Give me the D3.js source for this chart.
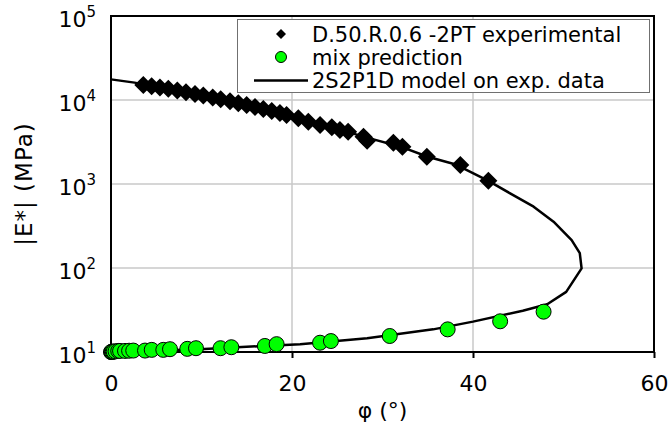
<!DOCTYPE html>
<html><head><meta charset="utf-8">
<script src="https://cdn.jsdelivr.net/npm/d3@7"></script>
<style>body{margin:0;background:#fff} svg{display:block;font-family:"DejaVu Sans",Verdana,sans-serif}</style>
</head><body><svg id="c" width="671" height="430"></svg>
<script>
// experimental data (phase angle °, |E*| MPa)
const expPhi=[3.57,4.49,5.41,6.33,7.33,8.29,9.28,10.2,11.24,12.12,13.15,14.07,14.99,15.91,16.83,17.76,18.67,19.4,20.7,21.8,23.1,24.4,25.3,26.2,27.9,28.3,31.2,32.2,34.9,38.6,41.7];
const expE=[15100,14600,14100,13600,13000,12400,11800,11300,10700,10200,9660,9170,8700,8260,7840,7420,6980,6620,6050,5520,5030,4730,4400,4200,3660,3280,3100,2780,2110,1680,1090];
// mix prediction
const mixPhi=[0,0.05,0.1,0.2,0.3,0.5,0.8,1.0,1.55,2.0,2.46,3.76,4.5,5.78,6.52,8.43,9.39,12.1,13.3,17.0,18.3,23.1,24.3,30.8,37.2,43.0,47.8];
const mixE=[10.0,10.0,10.05,10.1,10.1,10.2,10.3,10.3,10.3,10.35,10.4,10.4,10.6,10.6,10.8,10.9,11.1,11.1,11.4,11.8,12.4,12.9,13.5,15.5,18.6,23.2,30.2];
// 2S2P1D model curve
const modelPhi=[0,2.6,5,8,11,14,17,20,23,26,29,32,35,38,41.7,44.1,46.7,48.9,50.9,51.8,52.0,50.3,48.2,45.5,40,35.6,28.3,20.9,9.8,0];
const modelE=[17600,16100,14300,12600,10900,9200,7800,6300,5050,4200,3400,2780,2110,1720,1090,774,537,356,215,150,99,52,37,31,23,18.6,14.6,12.4,10.8,10.0];
const xTicks=[0,20,40,60];
const yTicks=[10,100,1000,10000,100000];
const yTickExp=["1","2","3","4","5"];
const legendLabels=["D.50.R.0.6 -2PT experimental","mix prediction","2S2P1D model on exp. data"];
const xTitle="φ (°)", yTitle="|E*| (MPa)";

const svg=d3.select("#c");
const L=111,R=654,T=16,B=352;
const x=d3.scaleLinear().domain([0,60]).range([L,R]);
const y=d3.scaleLog().domain([10,100000]).range([B,T]);
const grid="#c8c8c8";

// gridlines
svg.append("g").selectAll("line").data(yTicks.slice(1,-1)).join("line")
  .attr("x1",L).attr("x2",R).attr("y1",d=>y(d)).attr("y2",d=>y(d))
  .attr("stroke",grid).attr("stroke-width",1.5);
svg.append("g").selectAll("line").data(xTicks.slice(1,-1)).join("line")
  .attr("y1",T).attr("y2",B).attr("x1",d=>x(d)).attr("x2",d=>x(d))
  .attr("stroke",grid).attr("stroke-width",1.5);

// x axis
const xa=svg.append("g").attr("transform",`translate(0,${B})`)
  .call(d3.axisBottom(x).tickValues(xTicks).tickSize(6).tickFormat(d3.format("d")));
xa.select(".domain").remove();
xa.selectAll(".tick line").attr("stroke","#000").attr("stroke-width",2);
xa.selectAll(".tick text").attr("y",39).attr("dy",0).attr("font-size",22)
  .attr("font-family","DejaVu Sans, Verdana, sans-serif").attr("fill","#000");

// y axis labels (10^n)
const ya=svg.append("g");
yTicks.forEach((v,i)=>{
  const t=ya.append("text").attr("x",96).attr("y",y(v)+11).attr("text-anchor","end")
    .attr("font-size",22).attr("fill","#000");
  t.append("tspan").text("10");
  t.append("tspan").attr("dy",-10).attr("font-size",15).text(yTickExp[i]);
});

// frame
svg.append("rect").attr("x",L).attr("y",T).attr("width",R-L).attr("height",B-T)
  .attr("fill","none").attr("stroke","#000").attr("stroke-width",2);

// titles
svg.append("text").attr("x",(L+R)/2).attr("y",418).attr("text-anchor","middle")
  .attr("font-size",22).attr("fill","#000").text(xTitle);
svg.append("text").attr("transform",`translate(32,184) rotate(-90)`).attr("text-anchor","middle")
  .attr("font-size",23).attr("letter-spacing",1).attr("fill","#000").text(yTitle);

// model curve
const model=modelPhi.map((p,i)=>[p,modelE[i]]);
svg.append("path").datum(model).attr("fill","none").attr("stroke","#000").attr("stroke-width",2.5)
  .attr("stroke-linejoin","round")
  .attr("d",d3.line().x(d=>x(d[0])).y(d=>y(d[1])));

// mix prediction
svg.append("g").selectAll("circle").data(mixPhi.map((p,i)=>[p,mixE[i]])).join("circle")
  .attr("cx",d=>x(d[0])).attr("cy",d=>y(d[1])).attr("r",7.5)
  .attr("fill","#00ff00").attr("stroke","#000").attr("stroke-width",1);

// experimental diamonds
const diamond=d3.symbol().type(d3.symbolSquare).size(162);
svg.append("g").selectAll("path").data(expPhi.map((p,i)=>[p,expE[i]])).join("path")
  .attr("d",diamond).attr("transform",d=>`translate(${x(d[0])},${y(d[1])}) rotate(45)`)
  .attr("fill","#000");

// legend
const lg=svg.append("g");
lg.append("rect").attr("x",237.5).attr("y",19.5).attr("width",412).attr("height",73)
  .attr("fill","#fff").attr("stroke","#707070").attr("stroke-width",1);
const rowY=[34,57,80.5];
lg.append("path").attr("d",d3.symbol().type(d3.symbolSquare).size(50))
  .attr("transform",`translate(281,${rowY[0]}) rotate(45)`).attr("fill","#000");
lg.append("circle").attr("cx",281).attr("cy",rowY[1]).attr("r",5.5)
  .attr("fill","#00ff00").attr("stroke","#000").attr("stroke-width",1);
lg.append("line").attr("x1",254).attr("x2",308).attr("y1",rowY[2]).attr("y2",rowY[2])
  .attr("stroke","#000").attr("stroke-width",2.5);
legendLabels.forEach((s,i)=>{
  lg.append("text").attr("x",312).attr("y",rowY[i]+7.5).attr("font-size",21)
    .attr("fill","#000").text(s);
});
</script></body></html>
